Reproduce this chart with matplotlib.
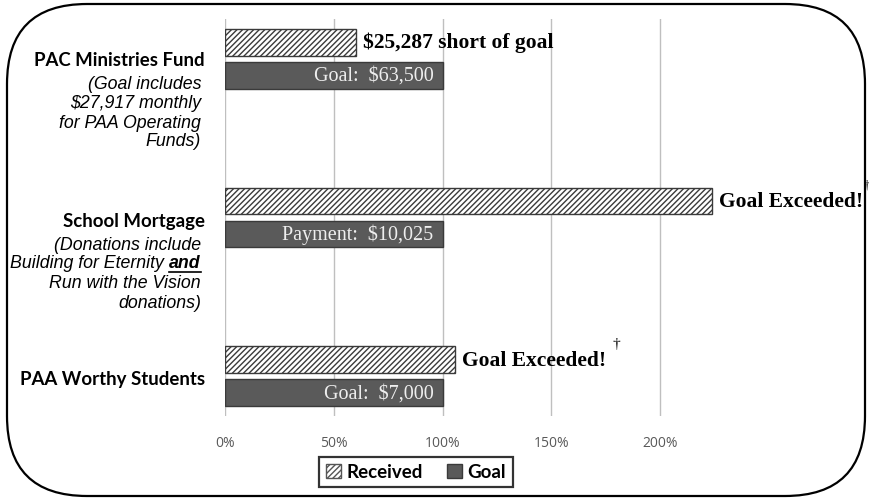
import matplotlib
matplotlib.use("Agg")
import matplotlib.pyplot as plt
from matplotlib.patches import FancyBboxPatch, Patch

# data (fraction of goal)
categories = ["PAC Ministries Fund", "School Mortgage", "PAA Worthy Students"]
received = [0.602, 2.24, 1.055]
goal = [1.0, 1.0, 1.0]
goal_labels = ["Goal:  $63,500", "Payment:  $10,025", "Goal:  $7,000"]
status_labels = ["$25,287 short of goal", "Goal Exceeded!", "Goal Exceeded!"]
tick_vals = [0, 0.5, 1.0, 1.5, 2.0]
tick_labels = ["0%", "50%", "100%", "150%", "200%"]

plt.rcParams["hatch.color"] = "#a0a0a0"

W, H = 869, 502
fig = plt.figure(figsize=(W / 100, H / 100), dpi=100)

# rounded outer frame, drawn in pixel units
bg = fig.add_axes([0, 0, 1, 1])
bg.set_xlim(0, W)
bg.set_ylim(H, 0)
bg.axis("off")
bg.add_patch(FancyBboxPatch((7, 5), 858, 492,
                            boxstyle="round,pad=0,rounding_size=80",
                            fill=False, lw=1.6, ec="black"))

ax = fig.add_axes([225 / W, (H - 417) / H, 544 / W, 397 / H])
ax.set_xlim(0, 2.5)
ax.set_ylim(2.25, -0.25)
for s in ax.spines.values():
    s.set_visible(False)
ax.set_xticks(tick_vals)
ax.set_xticklabels(tick_labels, color="#595959", fontsize=10, family="Open Sans")
ax.tick_params(axis="x", length=0, pad=14)
ax.set_yticks([])
ax.grid(axis="x", color="#bfbfbf", lw=1)
ax.set_axisbelow(True)

ys = list(range(len(categories)))
h = 0.168
off = 0.104
ax.barh([y - off for y in ys], received, height=h, color="white",
        edgecolor="#3a3a3a", hatch="//////", lw=1)
ax.barh([y + off for y in ys], goal, height=h, color="#5a5a5a",
        edgecolor="#3a3a3a", lw=1)

serif = "Liberation Serif"
for y, v, txt in zip(ys, received, status_labels):
    ax.annotate(txt, (v, y - off), xytext=(7, 0), textcoords="offset pixels",
                ha="left", va="center", family=serif, weight="bold",
                fontsize=15.5, color="black")
for y, v, txt in zip(ys, goal, goal_labels):
    ax.annotate(txt, (v, y + off), xytext=(-9, 0), textcoords="offset pixels",
                ha="right", va="center", family=serif, fontsize=14.5,
                color="#eeeeee")

# daggers
fig.text(867 / W, 1 - 186 / H, "\u2020", family=serif, fontsize=9, ha="center", va="center")
fig.text(616 / W, 1 - 345 / H, "\u2020", family=serif, fontsize=11, ha="center", va="center")

# category labels
title_y = [60, 221, 380]
for t, yp in zip(categories, title_y):
    fig.text(205 / W, 1 - yp / H, t, ha="right", va="center", family="Lato",
             weight="bold", fontsize=13.4, color="black")

note_font = dict(family="Liberation Sans", style="italic", fontsize=12.8,
                 ha="right", va="center", color="black")
notes1 = ["(Goal includes", "$27,917 monthly", "for PAA Operating", "Funds)"]
for i, line in enumerate(notes1):
    fig.text(201 / W, 1 - (85 + 19 * i) / H, line, **note_font)

fig.text(201 / W, 1 - 245 / H, "(Donations include", **note_font)
and_t = fig.text(201 / W, 1 - 264 / H, "and", weight="bold", **note_font)
fig.text(201 / W, 1 - 284 / H, "Run with the Vision", **note_font)
fig.text(201 / W, 1 - 303 / H, "donations)", **note_font)

r = fig.canvas.get_renderer()
bb = and_t.get_window_extent(r)
fig.text((bb.x0 - 5) / W, 1 - 264 / H, "Building for Eternity", **note_font)
bg.plot([bb.x0, bb.x1], [273, 273], color="black", lw=1.2)

# legend
leg = fig.legend(handles=[Patch(facecolor="white", edgecolor="#555555", hatch="//////"),
                          Patch(facecolor="#5a5a5a", edgecolor="#3a3a3a")],
                 labels=["Received", "Goal"], loc="center",
                 bbox_to_anchor=(416 / W, 1 - 473 / H), ncol=2,
                 prop=dict(family="Lato", weight="bold", size=13.5),
                 frameon=True, fancybox=False, handlelength=0.8,
                 handleheight=0.8, handletextpad=0.3, columnspacing=1.3,
                 borderpad=0.35, borderaxespad=0)
leg.get_frame().set_edgecolor("black")
leg.get_frame().set_linewidth(1.6)

fig.savefig("out.png", dpi=100)
